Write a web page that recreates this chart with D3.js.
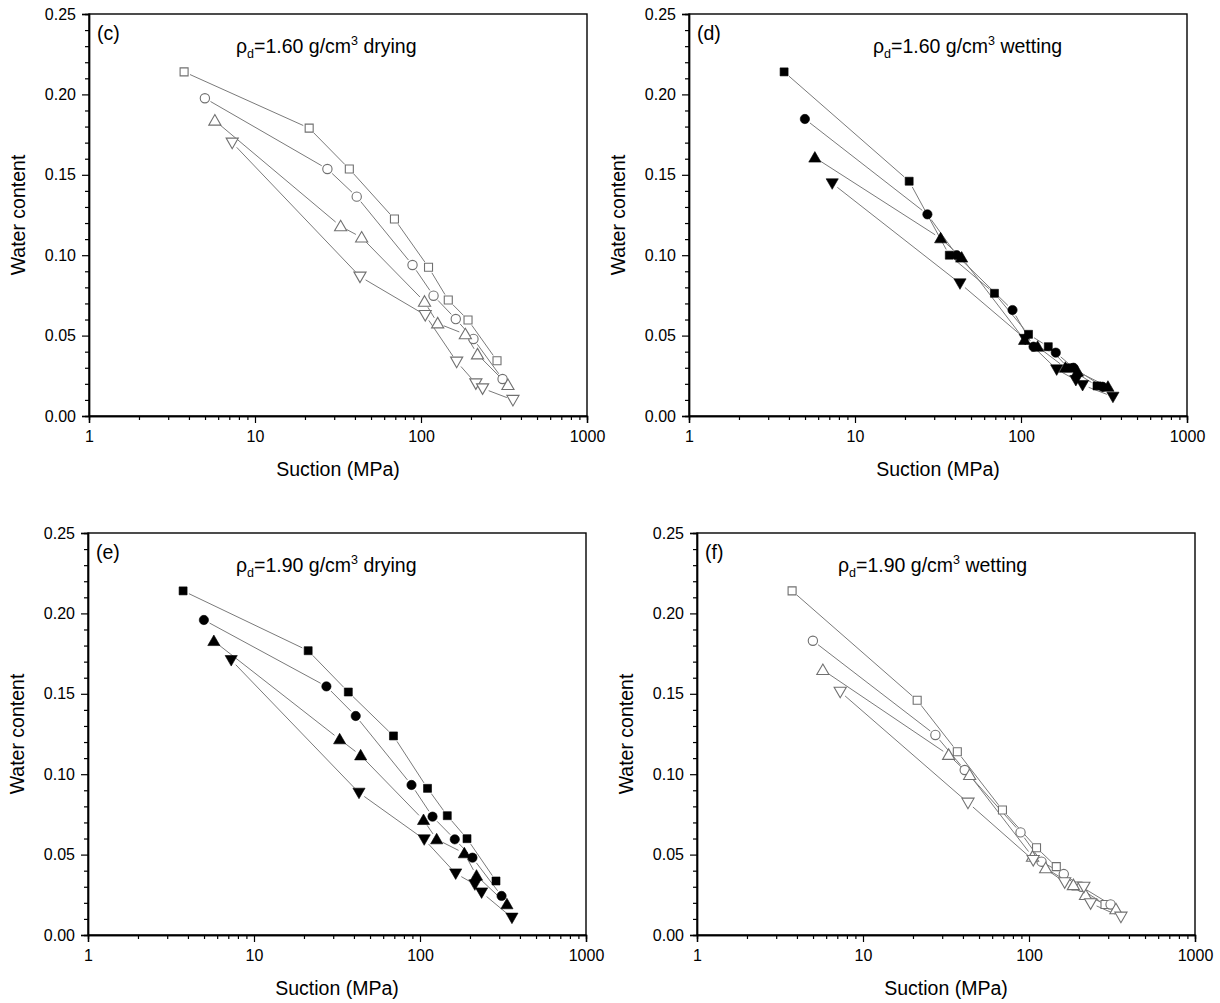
<!DOCTYPE html>
<html>
<head>
<meta charset="utf-8">
<script src="https://cdn.jsdelivr.net/npm/d3@7"></script>
<style>
  html, body { margin: 0; padding: 0; background: #fff; }
  svg { display: block; font-family: Arial, "Liberation Sans", sans-serif; }
</style>
</head>
<body>
<svg id="chart" width="1220" height="1003"></svg>
<script>
// Suction steps (MPa) for the four specimens
const suctionSquare = [3.74, 21.2, 37.0, 69.2, 111, 146, 192, 287];
const suctionCircle = [4.99, 27.3, 41.0, 88.9, 119, 162, 207, 310];
const suctionUp     = [5.73, 32.8, 43.9, 105, 126, 185, 219, 334];
const suctionDown   = [7.29, 42.9, 106, 164, 214, 235, 358];

// (c) rho_d = 1.60, drying
const cSquare = [0.214, 0.179, 0.1536, 0.1225, 0.0925, 0.0721, 0.0597, 0.0344];
const cCircle = [0.1976, 0.1536, 0.1364, 0.0939, 0.0748, 0.0603, 0.0479, 0.0230];
const cUp     = [0.1837, 0.118, 0.111, 0.0711, 0.0576, 0.0508, 0.0383, 0.0193];
const cDown   = [0.170, 0.0867, 0.0628, 0.0338, 0.0203, 0.0172, 0.0100];

// (d) rho_d = 1.60, wetting
const dSquare = [0.214, 0.146, 0.100, 0.0763, 0.0508, 0.0431, 0.030, 0.0187];
const dCircle = [0.1847, 0.1254, 0.100, 0.0659, 0.0431, 0.0394, 0.030, 0.0182];
const dUp     = [0.1607, 0.1105, 0.0985, 0.0473, 0.0431, 0.030, 0.0276, 0.0182];
const dDown   = [0.1447, 0.0825, 0.048, 0.029, 0.0224, 0.0193, 0.012];

// (e) rho_d = 1.90, drying
const eSquare = [0.214, 0.1768, 0.1511, 0.1238, 0.0912, 0.0742, 0.0599, 0.0336];
const eCircle = [0.1959, 0.1546, 0.1362, 0.0933, 0.0736, 0.0595, 0.0481, 0.0243];
const eUp     = [0.1828, 0.1217, 0.1117, 0.0715, 0.0595, 0.0508, 0.0369, 0.0191];
const eDown   = [0.171, 0.0885, 0.0595, 0.0383, 0.0315, 0.0265, 0.0108];

// (f) rho_d = 1.90, wetting
const fSquare = [0.214, 0.146, 0.114, 0.0777, 0.0543, 0.0425, 0.0305, 0.019];
const fCircle = [0.183, 0.1244, 0.1026, 0.0638, 0.0456, 0.0379, 0.030, 0.019];
const fUp     = [0.1648, 0.112, 0.0995, 0.0487, 0.0415, 0.031, 0.0249, 0.016];
const fDown   = [0.1513, 0.0823, 0.0466, 0.0328, 0.030, 0.0197, 0.0114];

// Axis ticks
const xMajorTicks = [1, 10, 100, 1000];
const xMinorTicks = [2,3,4,5,6,7,8,9, 20,30,40,50,60,70,80,90, 200,300,400,500,600,700,800,900];
const yMajorTicks = [0, 0.05, 0.10, 0.15, 0.20, 0.25];
const yMinorTicks = [0.01,0.02,0.03,0.04, 0.06,0.07,0.08,0.09, 0.11,0.12,0.13,0.14, 0.16,0.17,0.18,0.19, 0.21,0.22,0.23,0.24];

const panelLetters = ["(c)", "(d)", "(e)", "(f)"];
const panelDensity = ["1.60", "1.60", "1.90", "1.90"];
const panelPath    = ["drying", "wetting", "drying", "wetting"];
const panelFilled  = [false, true, true, false];
const panelSeries  = [
  [cSquare, cCircle, cUp, cDown],
  [dSquare, dCircle, dUp, dDown],
  [eSquare, eCircle, eUp, eDown],
  [fSquare, fCircle, fUp, fDown]
];
const seriesSuction = [suctionSquare, suctionCircle, suctionUp, suctionDown];
const seriesShape = ["square", "circle", "up", "down"];

// Layout of the four frames
const W = 498, H = 402;
const frames = [
  { left: 89,  top: 14,  titleX: 236 },
  { left: 689, top: 14,  titleX: 873 },
  { left: 88,  top: 533, titleX: 236 },
  { left: 697, top: 533, titleX: 838 }
];

const svg = d3.select("#chart");

const x = d3.scaleLog().domain([1, 1000]).range([0, W]);
const y = d3.scaleLinear().domain([0, 0.25]).range([H, 0]);

const symbolFor = {
  square: d3.symbol().type(d3.symbolSquare).size(64),
  circle: d3.symbol().type(d3.symbolCircle).size(68),
  up:     d3.symbol().type(d3.symbolTriangle).size(64),
  down:   d3.symbol().type(d3.symbolTriangle).size(64)
};

frames.forEach((fr, i) => {
  const g = svg.append("g").attr("transform", `translate(${fr.left},${fr.top})`);
  const filled = panelFilled[i];

  // data lines, trimmed near each symbol
  const gap = 6.5;
  panelSeries[i].forEach((vals, s) => {
    const pts = vals.map((v, k) => [x(seriesSuction[s][k]), y(v)]);
    for (let k = 0; k < pts.length - 1; k++) {
      const [x1, y1] = pts[k], [x2, y2] = pts[k + 1];
      const len = Math.hypot(x2 - x1, y2 - y1);
      if (len <= 2 * gap) continue;
      const ux = (x2 - x1) / len, uy = (y2 - y1) / len;
      g.append("line")
        .attr("x1", x1 + ux * gap).attr("y1", y1 + uy * gap)
        .attr("x2", x2 - ux * gap).attr("y2", y2 - uy * gap)
        .attr("stroke", "#7a7a7a").attr("stroke-width", 1);
    }
  });

  // symbols
  panelSeries[i].forEach((vals, s) => {
    const shape = seriesShape[s];
    g.selectAll(null)
      .data(vals.map((v, k) => ({ s: seriesSuction[s][k], w: v })))
      .enter().append("path")
      .attr("d", symbolFor[shape])
      .attr("transform", d => {
        const tx = x(d.s), ty = y(d.w);
        if (shape === "down") return `translate(${tx},${ty - 1}) rotate(180)`;
        if (shape === "up") return `translate(${tx},${ty + 1})`;
        return `translate(${tx},${ty})`;
      })
      .attr("fill", filled ? "#000" : "#fff")
      .attr("stroke", filled ? "#000" : "#707070")
      .attr("stroke-width", filled ? 0.6 : 1.1);
  });

  // frame
  g.append("rect").attr("x", 0).attr("y", 0).attr("width", W).attr("height", H)
    .attr("fill", "none").attr("stroke", "#000").attr("stroke-width", 1.4);

  // bottom axis
  const xAxis = g.append("g").attr("transform", `translate(0,${H})`)
    .call(d3.axisBottom(x).tickValues(xMajorTicks).tickSize(7).tickFormat(d3.format("d")));
  g.append("g").attr("transform", `translate(0,${H})`)
    .call(d3.axisBottom(x).tickValues(xMinorTicks).tickSize(4).tickFormat(""));

  // left axis
  const yAxis = g.append("g")
    .call(d3.axisLeft(y).tickValues(yMajorTicks).tickSize(7).tickFormat(d3.format(".2f")));
  g.append("g")
    .call(d3.axisLeft(y).tickValues(yMinorTicks).tickSize(4).tickFormat(""));

  g.selectAll(".domain").attr("stroke", "#000").attr("stroke-width", 1.4);
  g.selectAll(".tick line").attr("stroke", "#000").attr("stroke-width", 1.2);
  xAxis.selectAll("text").attr("font-size", 16).attr("fill", "#000").attr("dy", "1.0em")
    .attr("font-family", 'Arial, "Liberation Sans", sans-serif');
  yAxis.selectAll("text").attr("font-size", 16).attr("fill", "#000").attr("x", -13)
    .attr("font-family", 'Arial, "Liberation Sans", sans-serif');

  // axis titles
  g.append("text").attr("x", W / 2).attr("y", H + 60)
    .attr("text-anchor", "middle").attr("font-size", 19.5).text("Suction (MPa)");
  g.append("text").attr("transform", `translate(-64,${H / 2}) rotate(-90)`)
    .attr("text-anchor", "middle").attr("font-size", 19.5).text("Water content");

  // panel letter
  g.append("text").attr("x", 8).attr("y", 26).attr("font-size", 19.5).text(panelLetters[i]);

  // panel title: rho_d = ... g/cm^3 path
  const t = g.append("text").attr("x", fr.titleX - fr.left).attr("y", 39).attr("font-size", 19.5);
  t.append("tspan").text("\u03C1");
  t.append("tspan").attr("font-size", 12.5).attr("dy", 5).text("d");
  t.append("tspan").attr("dy", -5).text(`=${panelDensity[i]} g/cm`);
  t.append("tspan").attr("font-size", 12.5).attr("dy", -8).text("3");
  t.append("tspan").attr("dy", 8).text(` ${panelPath[i]}`);
});
</script>
</body>
</html>
